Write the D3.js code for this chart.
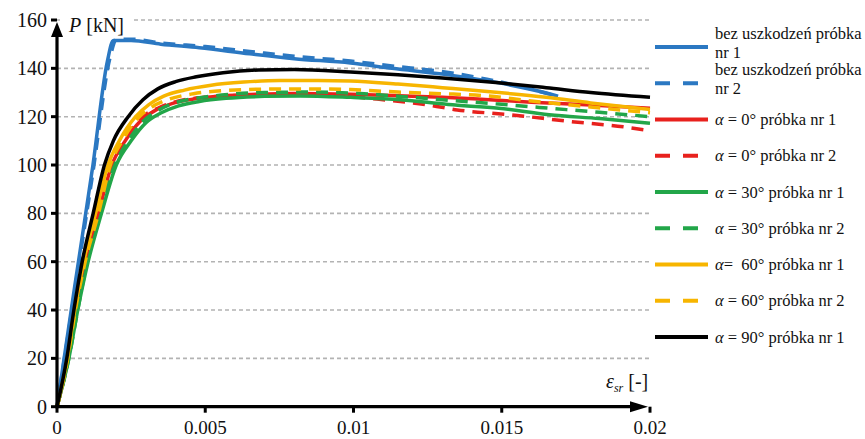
<!DOCTYPE html>
<html>
<head>
<meta charset="utf-8">
<script src="https://cdn.jsdelivr.net/npm/d3@7"></script>
<style>
body { margin: 0; background: #fff; }
</style>
</head>
<body>
<div id="chart"></div>
<script>
// strain [-], load [kN]
var bez1 = [[0,0],[0.0006,50],[0.0012,99],[0.0017,143],[0.0019,151.5],[0.0025,151.5],[0.0035,150],[0.0048,148.5],[0.0065,146],[0.008,144],[0.0099,142.2],[0.0113,140],[0.0132,137.3],[0.0149,134],[0.0166,129.5],[0.0169,128.5]];
var bez2 = [[0,0],[0.0006,48],[0.0012,96],[0.0018,145],[0.002,152],[0.0026,152],[0.0035,150.5],[0.005,149],[0.0065,147],[0.008,145],[0.0099,143],[0.0113,141],[0.0132,138.3],[0.0145,135.5],[0.0158,132],[0.0167,129]];
var a0_1 = [[0,0],[0.00038,20],[0.00065,40],[0.001,60],[0.0014,80],[0.00185,100],[0.0023,110],[0.0028,118],[0.0033,122.5],[0.0039,125.5],[0.0046,127.3],[0.0055,128.5],[0.0068,129.3],[0.008,129.6],[0.0099,129.3],[0.0115,128.7],[0.013,128],[0.0143,127.2],[0.016,126],[0.018,124.8],[0.02,123.5]];
var a0_2 = [[0,0],[0.00038,20],[0.00066,40],[0.001,60],[0.0014,80],[0.00188,100],[0.0023,110],[0.0028,119],[0.0034,123.5],[0.0041,126.5],[0.005,128],[0.0062,128.8],[0.0075,129],[0.0088,128.9],[0.0099,128.3],[0.011,127],[0.0125,124.9],[0.0135,122.8],[0.0153,120.8],[0.0173,118],[0.0191,115.8],[0.02,114.2]];
var a30_1 = [[0,0],[0.0004,20],[0.0007,40],[0.00105,60],[0.0015,80],[0.002,100],[0.0025,110],[0.003,117.5],[0.0035,121.5],[0.0041,124.5],[0.0048,126.3],[0.0057,127.6],[0.007,128.4],[0.0082,128.6],[0.0099,128],[0.0116,127],[0.0132,125],[0.0149,123.5],[0.0166,120.8],[0.0183,119.2],[0.02,117.3]];
var a30_2 = [[0,0],[0.0004,20],[0.0007,40],[0.00102,60],[0.00145,80],[0.00195,100],[0.0024,110],[0.0029,118],[0.0034,122.5],[0.004,125.8],[0.0048,127.8],[0.0058,129.2],[0.007,130],[0.0085,130.2],[0.0099,129.8],[0.0115,128.5],[0.013,127],[0.0149,125.2],[0.0166,123.5],[0.0183,121.8],[0.02,120]];
var a60_1 = [[0,0],[0.00035,20],[0.0006,40],[0.0009,60],[0.0013,80],[0.00172,100],[0.0021,110],[0.00265,120],[0.0031,125],[0.0036,128.5],[0.0043,131],[0.0052,133],[0.0063,134.3],[0.0075,135],[0.0088,135],[0.0099,134.8],[0.0115,133.5],[0.013,132],[0.0149,130],[0.0165,128],[0.018,125.7],[0.02,123]];
var a60_2 = [[0,0],[0.00036,20],[0.00062,40],[0.00095,60],[0.0014,80],[0.0018,100],[0.0022,110],[0.0027,119],[0.0032,124],[0.0038,127.3],[0.0046,129.5],[0.0056,130.8],[0.007,131.4],[0.0085,131.5],[0.0099,131.2],[0.0115,130.2],[0.013,129.5],[0.0143,128.8],[0.016,126.5],[0.018,124],[0.02,121.6]];
var a90_1 = [[0,0],[0.00033,20],[0.00057,40],[0.00085,60],[0.00122,80],[0.0016,100],[0.0019,110],[0.0024,120],[0.0029,127],[0.0034,131.5],[0.004,134.5],[0.0047,136.5],[0.0056,138.2],[0.0068,139.3],[0.008,139.5],[0.0099,138.5],[0.0115,137.3],[0.013,136],[0.0149,134],[0.0165,132],[0.018,130],[0.02,128]];

var seriesData = [bez1, bez2, a0_1, a0_2, a30_1, a30_2, a60_1, a60_2, a90_1];
var seriesColors = ["#2b78c2", "#2b78c2", "#e8211d", "#e8211d", "#22a649", "#22a649", "#f7b500", "#f7b500", "#000000"];
var seriesDashed = [false, true, false, true, false, true, false, true, false];
// legend labels: alpha part (or null) and text lines
var legendAlpha = [null, null, " = 0°", " = 0°", " = 30°", " = 30°", "=  60°", " = 60°", " = 90°"];
var legendText = [["bez uszkodzeń próbka", "nr 1"], ["bez uszkodzeń próbka", "nr 2"], ["próbka nr 1"], ["próbka nr 2"], ["próbka nr 1"], ["próbka nr 2"], ["próbka nr 1"], ["próbka nr 2"], ["próbka nr 1"]];

var yTicks = [0, 20, 40, 60, 80, 100, 120, 140, 160];
var xTicks = [0, 0.005, 0.01, 0.015, 0.02];

var serif = "'Liberation Serif', 'DejaVu Serif', 'Noto Serif', Tinos, Times, serif";

var W = 865, H = 439;
var svg = d3.select("#chart").append("svg")
    .attr("width", W)
    .attr("height", H);

var x = d3.scaleLinear().domain([0, 0.02]).range([57, 650]);
var y = d3.scaleLinear().domain([0, 160]).range([406.7, 20]);

// grid
svg.selectAll(".grid")
    .data(yTicks.filter(function(d) { return d > 0; }))
    .enter().append("line")
    .attr("class", "grid")
    .attr("x1", x(0)).attr("x2", x(0.02))
    .attr("y1", function(d) { return y(d); })
    .attr("y2", function(d) { return y(d); })
    .attr("stroke", "#b3b3b3")
    .attr("stroke-width", 1.6)
    .attr("stroke-dasharray", "4,3");

// white patch behind the P label
svg.append("rect").attr("x", 60).attr("y", 12).attr("width", 72).attr("height", 18).attr("fill", "#fff");

// curves
var line = d3.line()
    .x(function(d) { return x(d[0]); })
    .y(function(d) { return y(d[1]); })
    .curve(d3.curveMonotoneX);

seriesData.forEach(function(s, i) {
    svg.append("path")
        .datum(s)
        .attr("d", line)
        .attr("fill", "none")
        .attr("stroke", seriesColors[i])
        .attr("stroke-width", 3.5)
        .attr("stroke-linejoin", "round")
        .attr("stroke-dasharray", seriesDashed[i] ? "12,8" : null);
});

// axes
svg.append("line")
    .attr("x1", x(0)).attr("x2", x(0))
    .attr("y1", y(0) + 1.5).attr("y2", 34)
    .attr("stroke", "#000").attr("stroke-width", 3.2);
svg.append("path")
    .attr("d", "M" + (x(0) - 6) + ",37 L" + x(0) + ",22 L" + (x(0) + 6) + ",37 Z")
    .attr("fill", "#000");
svg.append("line")
    .attr("x1", x(0) - 1.5).attr("x2", 634)
    .attr("y1", y(0)).attr("y2", y(0))
    .attr("stroke", "#000").attr("stroke-width", 3.2);
svg.append("path")
    .attr("d", "M630," + (y(0) - 5.5) + " L648," + y(0) + " L630," + (y(0) + 5.5) + " Z")
    .attr("fill", "#000");

// tick marks
svg.selectAll(".ytick")
    .data(yTicks)
    .enter().append("line")
    .attr("x1", x(0) - 6).attr("x2", x(0))
    .attr("y1", function(d) { return y(d); })
    .attr("y2", function(d) { return y(d); })
    .attr("stroke", "#000").attr("stroke-width", 3);
svg.selectAll(".xtick")
    .data(xTicks)
    .enter().append("line")
    .attr("x1", function(d) { return x(d); })
    .attr("x2", function(d) { return x(d); })
    .attr("y1", y(0)).attr("y2", y(0) + 6)
    .attr("stroke", "#000").attr("stroke-width", 3);

// tick labels
svg.selectAll(".ylab")
    .data(yTicks)
    .enter().append("text")
    .attr("x", 47)
    .attr("y", function(d) { return y(d) + 7; })
    .attr("text-anchor", "end")
    .style("font-family", serif)
    .style("font-size", "20px")
    .attr("fill", "#111")
    .text(function(d) { return d; });
svg.selectAll(".xlab")
    .data(xTicks)
    .enter().append("text")
    .attr("x", function(d) { return x(d); })
    .attr("y", 434)
    .attr("text-anchor", "middle")
    .style("font-family", serif)
    .style("font-size", "19px")
    .attr("fill", "#111")
    .text(function(d) { return d; });

// axis titles
var pl = svg.append("text").attr("x", 69).attr("y", 32)
    .style("font-family", serif).style("font-size", "20px").attr("fill", "#111");
pl.append("tspan").style("font-style", "italic").text("P");
pl.append("tspan").text(" [kN]");

var el = svg.append("text").attr("x", 606).attr("y", 388)
    .style("font-family", serif).style("font-size", "20px").attr("fill", "#111");
el.append("tspan").style("font-style", "italic").text("ε");
el.append("tspan").style("font-style", "italic").style("font-size", "12px").attr("dy", 4).text("sr");
el.append("tspan").attr("dy", -4).text(" [-]");

// legend
seriesData.forEach(function(s, i) {
    var ly = 47 + i * 36.25;
    svg.append("line")
        .attr("x1", 655).attr("x2", 708)
        .attr("y1", ly).attr("y2", ly)
        .attr("stroke", seriesColors[i])
        .attr("stroke-width", 4)
        .attr("stroke-dasharray", seriesDashed[i] ? "15,13" : null);
    var t = svg.append("text")
        .attr("x", 715)
        .attr("fill", "#111")
        .style("font-family", serif)
        .style("font-size", "16.5px")
        .style("white-space", "pre");
    if (legendAlpha[i]) {
        t.attr("y", ly + 5.5);
        t.append("tspan").style("font-style", "italic").text("α");
        t.append("tspan").text(legendAlpha[i] + " " + legendText[i][0]);
    } else {
        t.attr("y", ly - 8);
        t.append("tspan").text(legendText[i][0]);
        t.append("tspan").attr("x", 715).attr("dy", 18.5).text(legendText[i][1]);
    }
});
</script>
</body>
</html>
